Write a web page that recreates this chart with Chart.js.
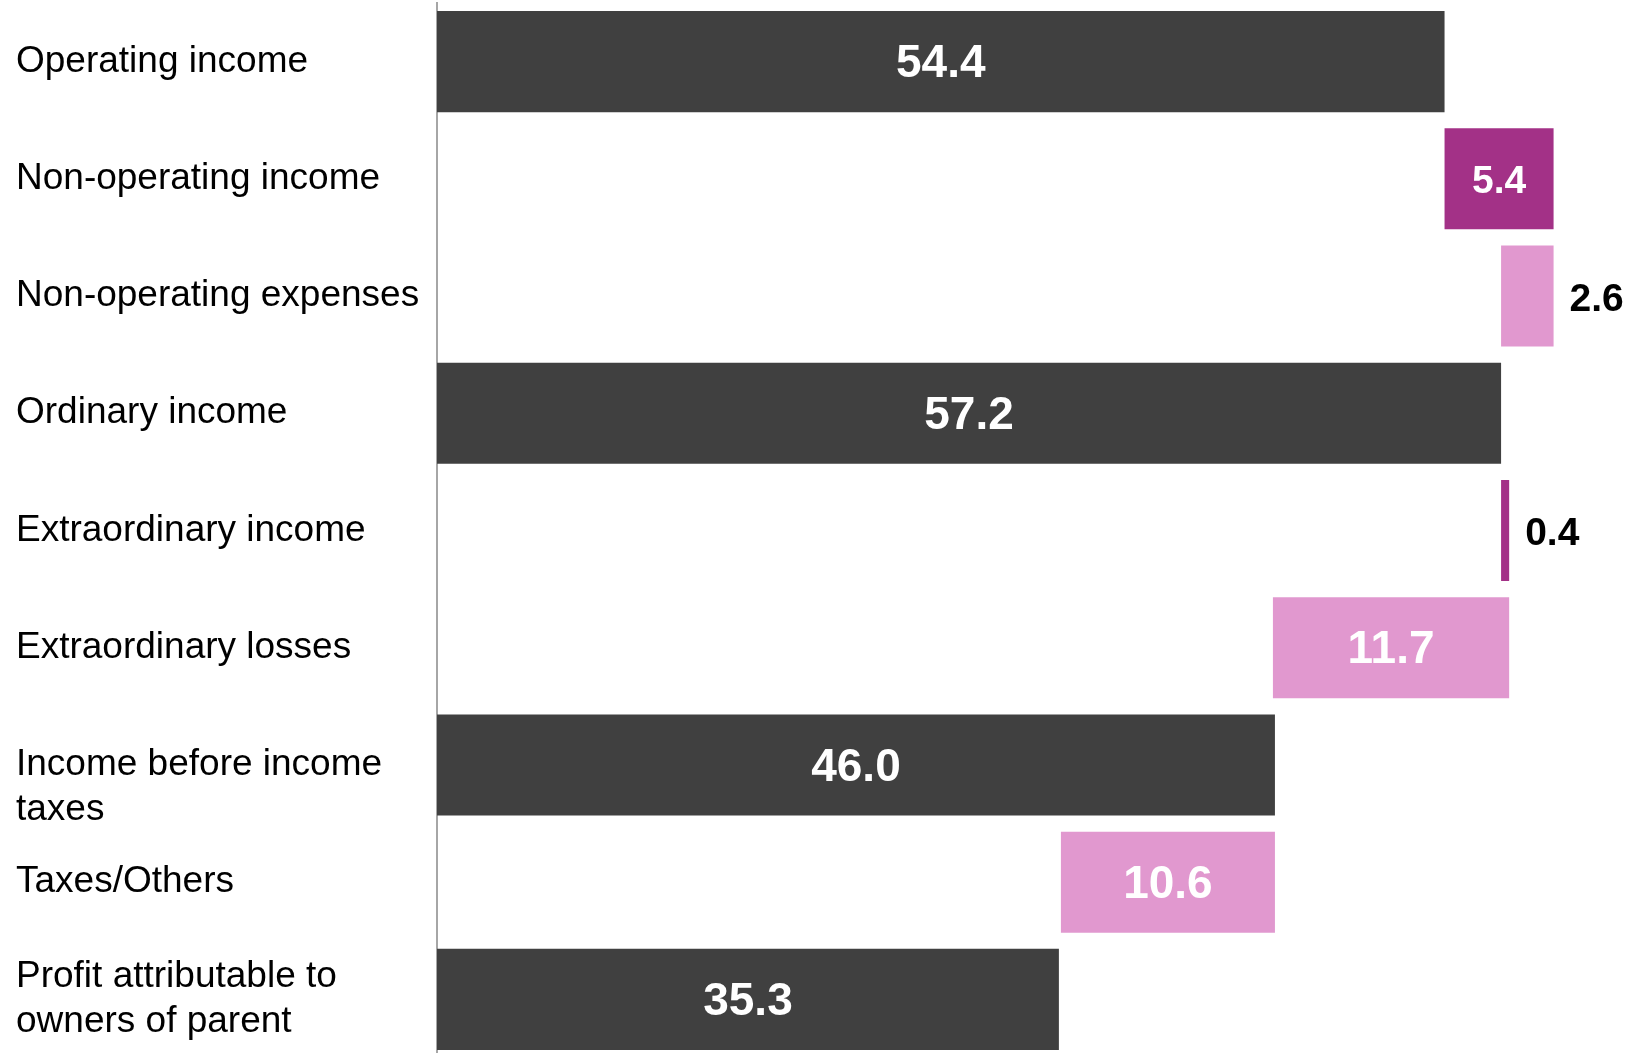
<!DOCTYPE html>
<html>
<head>
<meta charset="utf-8">
<script src="https://cdn.jsdelivr.net/npm/chart.js@4"></script>
<style>
  html, body { margin: 0; padding: 0; background: #fff; overflow: hidden; }
  #wrap { width: 1629px; height: 1053px; overflow: hidden; }
</style>
</head>
<body>
<div id="wrap"><canvas id="waterfall" width="1629" height="1058"></canvas></div>
<script>
// Income statement walk (billions)
const categories = [
  'Operating income',
  'Non-operating income',
  'Non-operating expenses',
  'Ordinary income',
  'Extraordinary income',
  'Extraordinary losses',
  ['', 'Income before income', 'taxes'],
  'Taxes/Others',
  ['Profit attributable to', 'owners of parent']
];
const amounts = [54.4, 5.4, 2.6, 57.2, 0.4, 11.7, 46.0, 10.6, 35.3];
const steps = ['total', 'up', 'down', 'total', 'up', 'down', 'total', 'down', 'total'];

const X_MIN = 4.5;
const X_MAX = 62;

const colours = { total: '#404040', up: '#a33187', down: '#e198cf' };

// floating bars from the running total
let running = 0;
const ranges = amounts.map((v, i) => {
  if (steps[i] === 'total') { running = v; return [X_MIN, v]; }
  if (steps[i] === 'up') { const r = [running, running + v]; running += v; return r; }
  const r = [running - v, running]; running -= v; return r;
});

const FONT = '"Liberation Sans", Arial, sans-serif';

// value labels: inside the bar when it fits, else just right of it
const valueLabels = {
  id: 'valueLabels',
  afterDatasetsDraw(chart) {
    const ctx = chart.ctx;
    const meta = chart.getDatasetMeta(0);
    ctx.save();
    ctx.textBaseline = 'middle';
    meta.data.forEach((bar, i) => {
      const txt = amounts[i].toFixed(1);
      const left = Math.min(bar.x, bar.base);
      const right = Math.max(bar.x, bar.base);
      const w = right - left;
      const size = w > 150 ? 46 : 39;
      ctx.font = 'bold ' + size + 'px ' + FONT;
      const tw = ctx.measureText(txt).width;
      if (tw + 20 < w) {
        ctx.fillStyle = '#ffffff';
        ctx.textAlign = 'center';
        ctx.fillText(txt, (left + right) / 2, bar.y + 3);
      } else {
        ctx.fillStyle = '#000000';
        ctx.textAlign = 'left';
        ctx.fillText(txt, right + 16, bar.y + 4);
      }
    });
    ctx.restore();
  }
};

new Chart(document.getElementById('waterfall').getContext('2d'), {
  type: 'bar',
  data: {
    labels: categories,
    datasets: [{
      data: ranges,
      backgroundColor: steps.map(s => colours[s]),
      borderWidth: 0,
      borderSkipped: false,
      barPercentage: 1,
      categoryPercentage: 0.862
    }]
  },
  options: {
    indexAxis: 'y',
    responsive: false,
    animation: false,
    layout: { padding: { left: 16, right: 31, top: 3, bottom: 0 } },
    plugins: {
      legend: { display: false },
      tooltip: { enabled: false }
    },
    scales: {
      x: {
        display: false,
        min: X_MIN,
        max: X_MAX
      },
      y: {
        grid: { display: false },
        border: { display: true, color: '#a6a6a6', width: 2 },
        ticks: {
          autoSkip: false,
          crossAlign: 'far',
          color: '#000000',
          font: { family: FONT, size: 37, lineHeight: 1.2 }
        },
        afterFit(scale) {
          scale.width = 421;
          scale.paddingTop = 0;
          scale.paddingBottom = 0;
        }
      }
    }
  },
  plugins: [valueLabels]
});
</script>
</body>
</html>
